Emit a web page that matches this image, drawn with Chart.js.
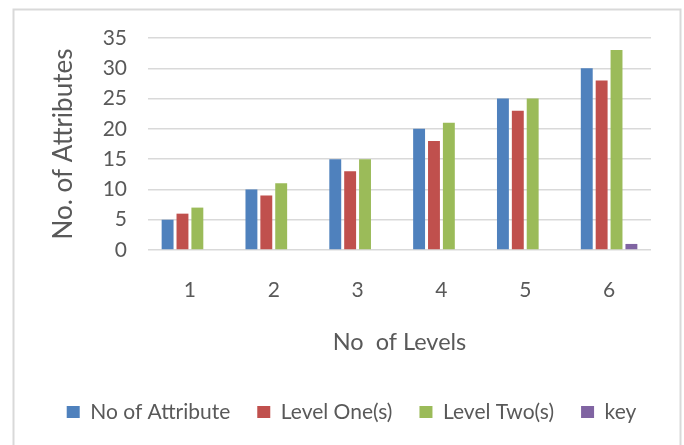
<!DOCTYPE html>
<html>
<head>
<meta charset="utf-8">
<script src="https://cdn.jsdelivr.net/npm/chart.js@4/dist/chart.umd.min.js"></script>
<style>
  html, body { margin: 0; padding: 0; background: #ffffff; }
  #wrap { width: 684px; height: 445px; position: relative; }
</style>
</head>
<body>
<div id="wrap"><canvas id="chart" width="684" height="445"></canvas></div>
<script>
// Categories and series
const levels = ['1', '2', '3', '4', '5', '6'];
const noOfAttribute = [5, 10, 15, 20, 25, 30];
const levelOne = [6, 9, 13, 18, 23, 28];
const levelTwo = [7, 11, 15, 21, 25, 33];
const keyValues = [0, 0, 0, 0, 0, 1];

const seriesNames = ['No of Attribute', 'Level One(s)', 'Level Two(s)', 'key'];
const seriesColors = ['#4F81BD', '#C0504D', '#9BBB59', '#8064A2'];

const TEXT = '#595959';
const GRID = '#d9d9d9';
const FONT = 'Lato, "Liberation Sans", Arial, sans-serif';

// Light frame around the whole chart
const framePlugin = {
  id: 'frame',
  beforeDraw(chart) {
    const ctx = chart.ctx;
    ctx.save();
    ctx.fillStyle = '#ffffff';
    ctx.fillRect(0, 0, chart.width, chart.height);
    ctx.strokeStyle = GRID;
    ctx.lineWidth = 2;
    ctx.strokeRect(13.5, 9.5, 667, 470);
    ctx.restore();
  }
};

const seriesData = [noOfAttribute, levelOne, levelTwo, keyValues];

new Chart(document.getElementById('chart'), {
  type: 'bar',
  data: {
    labels: levels,
    datasets: seriesNames.map((name, i) => ({
      label: name,
      data: seriesData[i],
      backgroundColor: seriesColors[i],
      borderWidth: 0,
      categoryPercentage: 0.71,
      barPercentage: 0.8,
      yAxisID: 'y'
    }))
  },
  options: {
    responsive: false,
    animation: false,
    devicePixelRatio: 1,
    layout: { padding: { left: 24, right: 5, top: 38, bottom: 12.5 } },
    plugins: {
      tooltip: { enabled: false },
      legend: {
        position: 'bottom',
        align: 'center',
        labels: {
          boxWidth: 13,
          boxHeight: 12,
          padding: 27,
          color: TEXT,
          font: { family: FONT, size: 21 }
        }
      }
    },
    scales: {
      x: {
        grid: { display: false },
        border: { display: false },
        ticks: { color: TEXT, padding: 20, font: { family: FONT, size: 21 } },
        title: {
          display: true,
          text: 'No  of Levels',
          color: TEXT,
          padding: { top: 0, bottom: 18.4 },
          font: { family: FONT, size: 23.5 }
        },
        afterFit(scale) { scale.height = 124.5; }
      },
      y: {
        position: 'left',
        min: 0,
        max: 35,
        grid: { color: GRID, lineWidth: 1.5, drawTicks: false },
        border: { display: false },
        ticks: { stepSize: 5, color: TEXT, padding: 21, font: { family: FONT, size: 21 } },
        title: {
          display: true,
          text: 'No. of Attributes',
          color: TEXT,
          padding: { top: 24, bottom: 0 },
          font: { family: FONT, size: 26 }
        },
        afterFit(scale) { scale.width = 124; }
      },
      yRight: {
        type: 'linear',
        position: 'right',
        min: 0,
        max: 1,
        grid: { display: false },
        border: { display: false },
        ticks: { display: false },
        afterFit(scale) { scale.width = 28; }
      }
    }
  },
  plugins: [framePlugin]
});
</script>
</body>
</html>
